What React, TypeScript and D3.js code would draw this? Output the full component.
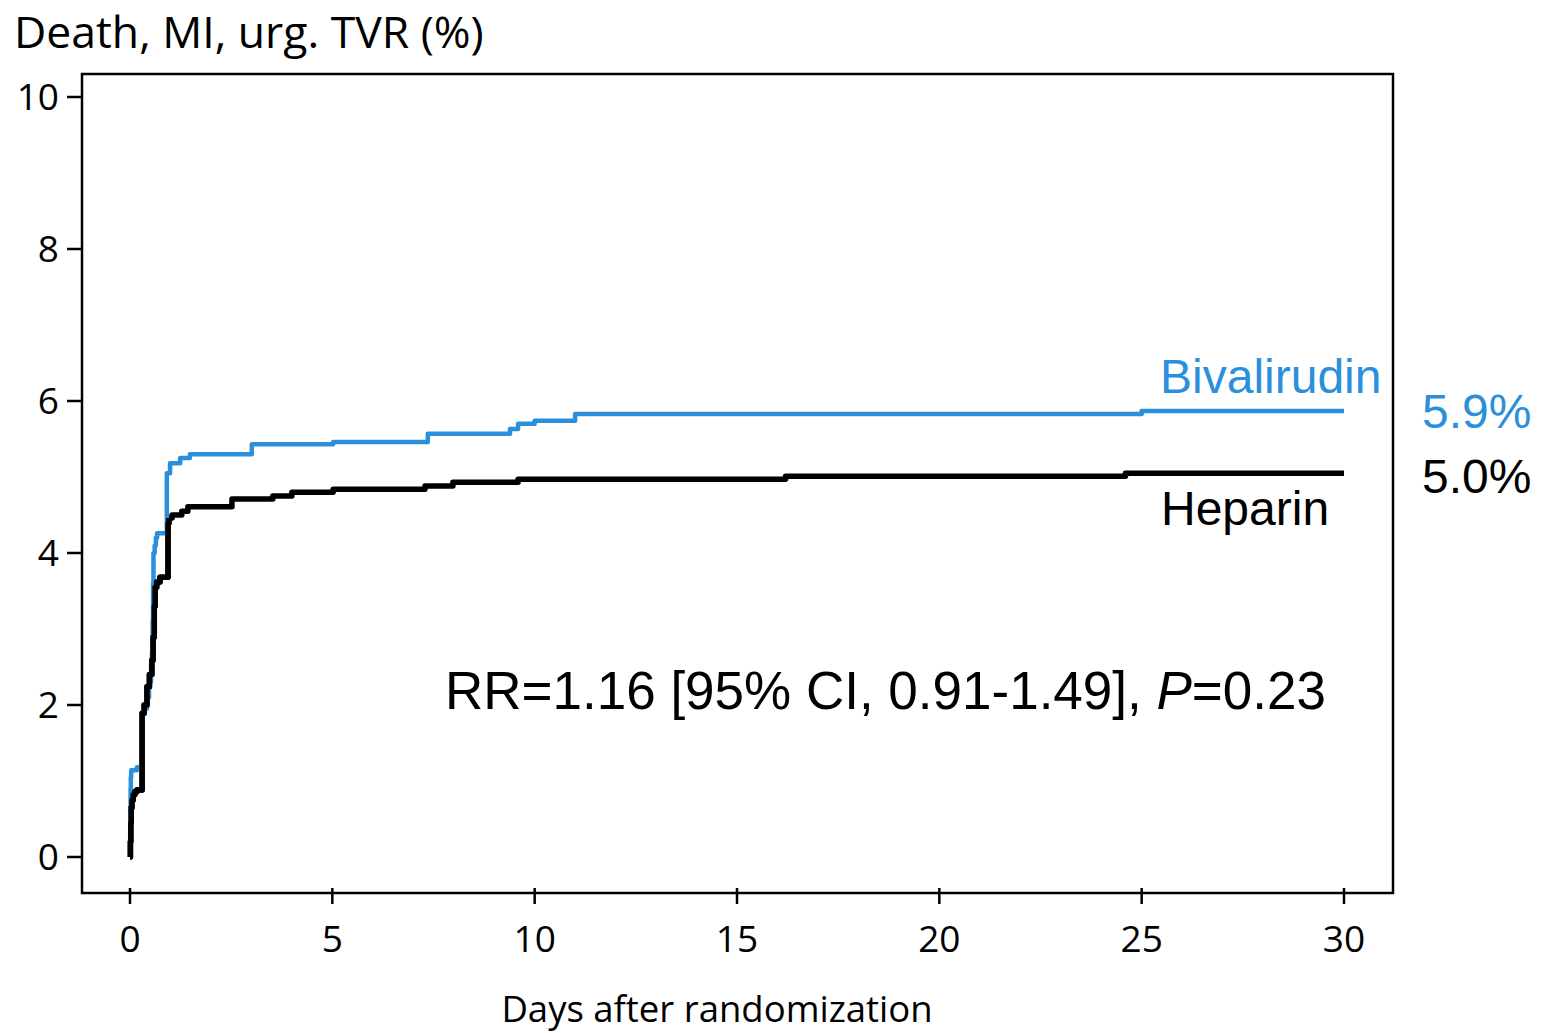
import React from "react";
import * as d3 from "d3";

// Kaplan-Meier style cumulative event data (day, percent)
const bivalirudinDays = [0, 0.005, 0.01, 0.015, 0.02, 0.03, 0.17, 0.30, 0.36, 0.42, 0.47, 0.52, 0.54, 0.56, 0.57, 0.58, 0.61, 0.64, 0.67, 0.91, 0.99, 1.24, 1.48, 3.01, 5.02, 7.36, 9.39, 9.59, 10.0, 11.0, 25.0, 30];
const bivalirudinValues = [0, 0.3, 0.6, 0.9, 1.05, 1.14, 1.18, 1.89, 1.95, 2.1, 2.3, 2.55, 2.68, 3.12, 3.6, 4.0, 4.1, 4.2, 4.26, 5.05, 5.18, 5.25, 5.30, 5.43, 5.46, 5.57, 5.63, 5.70, 5.74, 5.83, 5.87, 5.87];

const heparinDays = [0, 0.01, 0.02, 0.03, 0.05, 0.08, 0.12, 0.17, 0.30, 0.35, 0.42, 0.48, 0.54, 0.57, 0.60, 0.62, 0.66, 0.74, 0.94, 0.96, 1.04, 1.28, 1.43, 2.52, 3.53, 4.0, 5.02, 7.29, 7.98, 9.59, 16.2, 24.6, 30];
const heparinValues = [0, 0.2, 0.45, 0.65, 0.75, 0.82, 0.86, 0.88, 1.89, 2.0, 2.24, 2.4, 2.59, 2.89, 3.3, 3.55, 3.62, 3.68, 4.39, 4.46, 4.50, 4.55, 4.61, 4.71, 4.75, 4.80, 4.84, 4.88, 4.93, 4.97, 5.01, 5.05, 5.05];

const xTicks = [0, 5, 10, 15, 20, 25, 30];
const yTicks = [0, 2, 4, 6, 8, 10];

const yTitle = "Death, MI, urg. TVR (%)";
const xTitle = "Days after randomization";
const seriesNames = ["Bivalirudin", "Heparin"];
const endLabels = ["5.9%", "5.0%"];

const BLUE = "#2c8fdb";
const SANS = "'Open Sans', sans-serif";
const ARIAL = "'Liberation Sans', Arial, sans-serif";

export default function App() {
  const x = d3.scaleLinear().domain([0, 30]).range([130, 1344]);
  const y = d3.scaleLinear().domain([0, 10]).range([857, 97]);
  const frame = { left: 82, right: 1393, top: 74, bottom: 893 };

  const line = d3
    .line<[number, number]>()
    .x((d) => x(d[0]))
    .y((d) => y(d[1]))
    .curve(d3.curveStepAfter);

  const biv: [number, number][] = bivalirudinDays.map((d, i) => [d, bivalirudinValues[i]]);
  const hep: [number, number][] = heparinDays.map((d, i) => [d, heparinValues[i]]);

  return (
    <svg
      width={1542}
      height={1033}
      style={{ position: "absolute", left: 0, top: 0, background: "#fff" }}
    >
      <rect x={0} y={0} width={1542} height={1033} fill="#fff" />
      {/* frame */}
      <rect
        x={frame.left}
        y={frame.top}
        width={frame.right - frame.left}
        height={frame.bottom - frame.top}
        fill="none"
        stroke="#000"
        strokeWidth={2.5}
      />
      {/* y ticks */}
      {yTicks.map((t) => (
        <g key={"y" + t}>
          <line x1={67} x2={frame.left} y1={y(t)} y2={y(t)} stroke="#000" strokeWidth={2.5} />
          <text
            x={59}
            y={y(t)}
            dy="0.36em"
            textAnchor="end"
            fontFamily={SANS}
            fontSize={37}
            fill="#000"
          >
            {t}
          </text>
        </g>
      ))}
      {/* x ticks */}
      {xTicks.map((t) => (
        <g key={"x" + t}>
          <line x1={x(t)} x2={x(t)} y1={888} y2={904} stroke="#000" strokeWidth={2.5} />
          <text
            x={x(t)}
            y={952}
            textAnchor="middle"
            fontFamily={SANS}
            fontSize={37}
            fill="#000"
          >
            {t}
          </text>
        </g>
      ))}
      <text x={14} y={48} fontFamily={SANS} fontSize={44.5} fill="#000">
        {yTitle}
      </text>
      <text x={717} y={1022} textAnchor="middle" fontFamily={SANS} fontSize={36.5} fill="#000">
        {xTitle}
      </text>

      {/* curves */}
      <path d={line(hep) || ""} fill="none" stroke="#000" strokeWidth={5.5} strokeLinejoin="round" />
      <path d={line(biv) || ""} fill="none" stroke={BLUE} strokeWidth={4.5} strokeLinejoin="round" />
      <path d={line(hep.slice(0, 20)) || ""} fill="none" stroke="#000" strokeWidth={5.5} strokeLinejoin="round" />

      {/* annotations */}
      <text x={1160} y={393} fontFamily={ARIAL} fontSize={48} fill={BLUE}>
        {seriesNames[0]}
      </text>
      <text x={1161} y={525} fontFamily={ARIAL} fontSize={48} fill="#000">
        {seriesNames[1]}
      </text>
      <text x={1422} y={428} fontFamily={ARIAL} fontSize={48} fill={BLUE}>
        {endLabels[0]}
      </text>
      <text x={1422} y={493} fontFamily={ARIAL} fontSize={48} fill="#000">
        {endLabels[1]}
      </text>
      <text x={445} y={709} fontFamily={ARIAL} fontSize={53} fill="#000">
        RR=1.16 [95% CI, 0.91-1.49], <tspan fontStyle="italic">P</tspan>=0.23
      </text>
    </svg>
  );
}
